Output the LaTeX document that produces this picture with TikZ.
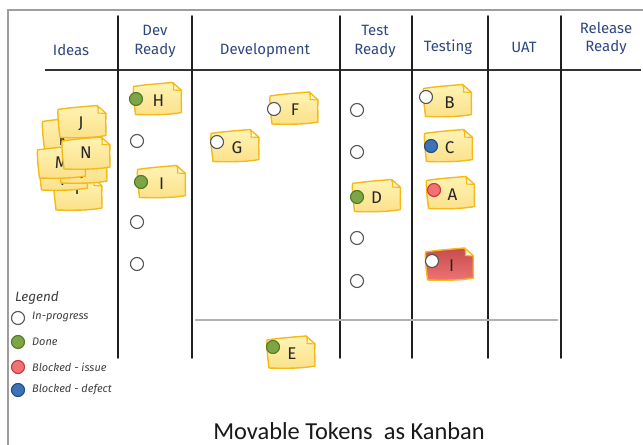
\documentclass[tikz,border=0pt]{standalone}
\usepackage{fontspec}
\setmainfont{Carlito}
\newfontfamily\handfont{Fira Sans}
\definecolor{headblue}{HTML}{2E4780}
\definecolor{noteedge}{HTML}{F5B919}
\definecolor{notetop}{HTML}{FFF3B4}
\definecolor{notebot}{HTML}{FBE18A}
\definecolor{foldfill}{HTML}{FFF7D0}
\definecolor{redtop}{HTML}{C64C4E}
\definecolor{redbot}{HTML}{EE7374}
\definecolor{okfill}{HTML}{7DA446}
\definecolor{okedge}{HTML}{4F7A26}
\definecolor{issuefill}{HTML}{F07275}
\definecolor{issueedge}{HTML}{C9363C}
\definecolor{defectfill}{HTML}{3E71B7}
\definecolor{defectedge}{HTML}{1E4C86}
\definecolor{openedge}{HTML}{555555}
\definecolor{legendgray}{HTML}{404040}

\tikzset{
  frameline/.style={draw=black!38, line width=1.1bp},
  laneline/.style={draw=black!88, line width=1.7bp, line cap=round},
  headline/.style={draw=black!80, line width=1.4bp},
  limitline/.style={draw=black!30, line width=1.2bp},
  header/.style={font=\handfont\fontsize{15}{19}\selectfont, text=headblue, align=center, inner sep=0pt},
  notebody/.style={draw=noteedge, line width=1.4bp, top color=notetop, bottom color=notebot, line join=round},
  rednote/.style={draw=noteedge, line width=1.4bp, top color=redtop, bottom color=redbot, line join=round},
  notefold/.style={draw=noteedge, line width=1.1bp, fill=foldfill, line join=round},
  notetext/.style={font=\handfont\fontsize{17}{17}\selectfont, text=black!85, inner sep=0pt},
  tok/.style={circle, minimum size=13bp, inner sep=0pt, line width=1.1bp},
  open/.style={tok, draw=openedge, fill=white},
  done/.style={tok, draw=okedge, fill=okfill},
  issue/.style={tok, draw=issueedge, fill=issuefill},
  defect/.style={tok, draw=defectedge, fill=defectfill},
  legendtext/.style={font=\handfont\itshape\fontsize{11}{12}\selectfont, text=legendgray, anchor=west, inner sep=0pt},
}

% sticky note: #1 name, #2 x, #3 y (centre), #4 letter, #5 body style, #6 letter x-offset, #7 letter y-offset
\newcommand\stickynote[7]{%
  \begin{scope}[shift={(#2,#3)}]
    \path[#5] (-24,-13) .. controls (-12,-15) and (4,-16) .. (15,-17)
      -- (24,-9) .. controls (23.5,-1) and (24,7) .. (24,13)
      .. controls (12,15.5) and (-8,15.5) .. (-22,15)
      .. controls (-23,6) and (-24.5,-4) .. cycle;
    \path[notefold] (15,-17) .. controls (16.5,-13) .. (16,-9.5) -- (24,-9) -- cycle;
    \node[notetext] (#1) at (#6,#7) {#4};
  \end{scope}}

\begin{document}
\begin{tikzpicture}[x=1bp, y=-1bp]
\useasboundingbox (0,0) rectangle (643,445);
\fill[white] (0,0) rectangle (643,445);

% board frame
\draw[frameline] (8,445) -- (8,10) -- (643,10);

% lanes
\draw[headline] (45,70) -- (641,70);
\foreach \lx in {118,192,340,412,488,561}
  \draw[laneline] (\lx,16) -- (\lx,358);
\draw[limitline] (195,320) -- (558,320);

% column headers
\node[header] (hIdeas) at (71,50) {Ideas};
\node[header] (hDevReady) at (155,41.5) {Dev\\Ready};
\node[header] (hDev) at (265,50) {Development};
\node[header] (hTestReady) at (375,41.5) {Test\\Ready};
\node[header] (hTesting) at (448,47) {Testing};
\node[header] (hUAT) at (524,47) {UAT};
\node[header] (hRelease) at (606,38.5) {Release\\Ready};

% ideas pile
\stickynote{pI}{78}{195}{I}{notebody}{-1}{-6}
\stickynote{pT}{63.5}{175}{T}{notebody}{-1}{5}
\stickynote{pD}{83}{168}{J}{notebody}{0}{4}
\stickynote{pK}{66.5}{134.5}{K}{notebody}{-3}{5}
\stickynote{pM}{61.5}{163}{M}{notebody}{0}{0}
\stickynote{pN}{86}{154}{N}{notebody}{0}{-1}
\stickynote{pJ}{82}{122.5}{J}{notebody}{-1}{1}

% dev ready
\stickynote{nH}{157.5}{99.5}{H}{notebody}{1}{1}
\node[done] (tH) at (136,99) {};
\node[open] (o1) at (137,141) {};
\stickynote{nI}{161.5}{182.5}{I}{notebody}{0}{1}
\node[done] (tI) at (141,182) {};
\node[open] (o2) at (137,222) {};
\node[open] (o3) at (137,264) {};

% development
\stickynote{nF}{294}{109}{F}{notebody}{1}{1}
\node[open] (tF) at (274,109) {};
\stickynote{nG}{235}{146.5}{G}{notebody}{2}{1}
\node[open] (tG) at (217,142) {};
\stickynote{nE}{291}{353}{E}{notebody}{1}{1}
\node[done] (tE) at (273,347) {};

% test ready
\node[open] (o4) at (357,110) {};
\node[open] (o5) at (357,152) {};
\stickynote{nD}{376.5}{196.5}{D}{notebody}{0}{1}
\node[done] (tD) at (357,197) {};
\node[open] (o6) at (357,238) {};
\node[open] (o7) at (357,281) {};

% testing
\stickynote{nB}{447.5}{101.5}{B}{notebody}{2}{1}
\node[open] (tB) at (426,97) {};
\stickynote{nC}{448.5}{146.5}{C}{notebody}{1}{1}
\node[defect] (tC) at (431,146) {};
\stickynote{nA}{450.5}{193.5}{A}{notebody}{2}{1}
\node[issue] (tA) at (434,190) {};
\stickynote{nIr}{449.5}{265}{I}{rednote}{2}{1}
\node[open] (tIr) at (432,261) {};

% legend
\node[font=\handfont\itshape\fontsize{13.5}{15}\selectfont, text=legendgray, anchor=west, inner sep=0pt] (leg) at (15,298) {Legend};
\node[open] (l1) at (18,318) {};
\node[legendtext] (l1t) at (32,317) {In-progress};
\node[done] (l2) at (18,342) {};
\node[legendtext] (l2t) at (32,342) {Done};
\node[issue] (l3) at (18,367) {};
\node[legendtext] (l3t) at (32,367) {Blocked - issue};
\node[defect] (l4) at (18,390) {};
\node[legendtext] (l4t) at (32,390) {Blocked - defect};

% caption
\node[font=\fontsize{24.5}{28}\selectfont, text=black!90, inner sep=0pt] (cap) at (349,431) {Movable Tokens\ \ as Kanban};
\end{tikzpicture}
\end{document}
